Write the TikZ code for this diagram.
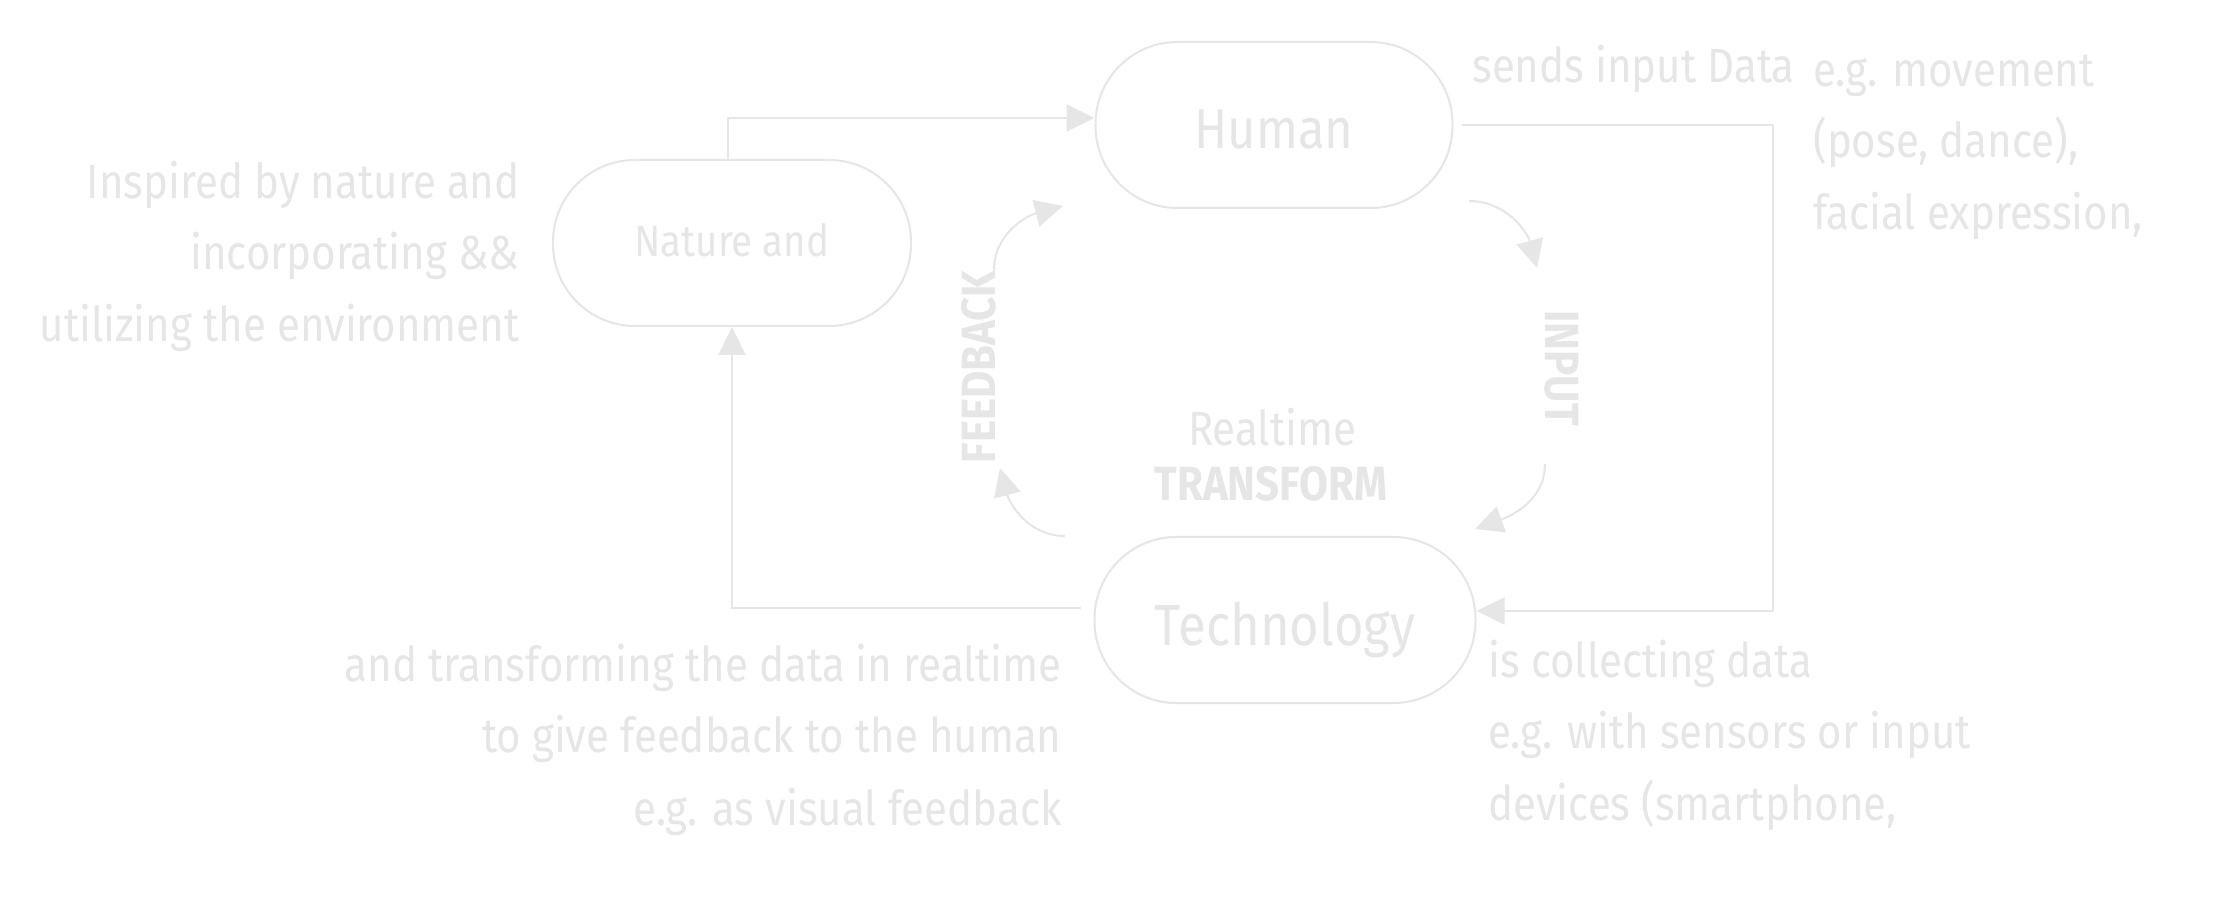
\documentclass[tikz,border=0pt]{standalone}
\usepackage{fontspec}
\setmainfont{Fira Sans}[BoldFont=* Bold, FakeStretch=0.875]
\usetikzlibrary{arrows.meta}
\definecolor{lg}{HTML}{E6E6E6}
\tikzset{
  box/.style={draw=lg, line width=1pt, rounded corners=41pt, minimum height=83pt, text=lg, inner sep=0pt, text depth=0pt},
  conn/.style={draw=lg, line width=1pt, -{Triangle[length=14pt,width=13.5pt]}},
  txt/.style={text=lg, inner sep=0pt, font=\fontsize{24}{28}\selectfont},
  lbl/.style={text=lg, inner sep=0pt, font=\bfseries\fontsize{24}{28}\selectfont},
}
\begin{document}
\begin{tikzpicture}[x=0.5pt,y=-0.5pt]
\useasboundingbox[fill=white] (0,0) rectangle (2224,919);
% nodes
\node[box, minimum width=178.5pt, text height=24pt, font=\fontsize{28}{32}\selectfont] (human) at (1274,125) {Human};
\node[box, minimum width=179pt, text height=14pt, font=\fontsize{22}{26}\selectfont] (nature) at (732,243) {Nature and};
\node[box, minimum width=190.5pt, text height=26pt, font=\fontsize{29}{33}\selectfont] (tech) at (1285,620) {Technology};
% straight connectors
\coordinate (hr) at (1773,125);
\draw[conn] ([xshift=-2pt]nature.north) |- ([yshift=3.5pt]human.west);
\draw[conn] ([xshift=4pt]human.east) -- (human.east -| hr) |- ([yshift=4.5pt]tech.east);
\draw[conn] ([xshift=-6.5pt,yshift=6pt]tech.west) -| (nature.south);
% curved arrows
\coordinate (a1s) at (1469,201); \coordinate (a1e) at (1537,268);
\coordinate (a2s) at (1545,464); \coordinate (a2e) at (1475,529);
\coordinate (a3s) at (1065,536); \coordinate (a3e) at (1000,468);
\coordinate (a4s) at (994,270);  \coordinate (a4e) at (1063,206);
\draw[conn] (a1s) to[out=0,in=105] (a1e);
\draw[conn] (a2s) to[out=-90,in=20] (a2e);
\draw[conn] (a3s) to[out=180,in=-75] (a3e);
\draw[conn] (a4s) to[out=90,in=195] (a4e);
% center labels
\node[lbl, rotate=90, anchor=base] (fb) at (995,367) {FEEDBACK};
\node[lbl, rotate=-90, anchor=base] (inp) at (1545,368) {INPUT};
\node[txt, anchor=base] (rt) at (1272,446) {Realtime};
\node[lbl, anchor=base] (tf) at (1271,501) {TRANSFORM};
% left texts
\node[txt, anchor=base east] (l1) at (520,199) {Inspired by nature and};
\node[txt, anchor=base east] (l2) at (520,270) {incorporating \&\&};
\node[txt, anchor=base east] (l3) at (520,342) {utilizing the environment};
% bottom left
\node[txt, anchor=base east] (b1) at (1062,682) {and transforming the data in realtime};
\node[txt, anchor=base east] (b2) at (1062,752) {to give feedback to the human};
\node[txt, anchor=base east] (b3) at (1062,825) {e.g. as visual feedback};
% bottom right
\node[txt, anchor=base west] (r1) at (1488,677) {is collecting data};
\node[txt, anchor=base west] (r2) at (1488,748) {e.g. with sensors or input};
\node[txt, anchor=base west] (r3) at (1488,820) {devices (smartphone,};
% top right
\node[txt, anchor=base west] (t0) at (1472,83) {sends input Data};
\node[txt, anchor=base west] (t1) at (1813,87) {e.g. movement};
\node[txt, anchor=base west] (t2) at (1813,158) {(pose, dance),};
\node[txt, anchor=base west] (t3) at (1813,230) {facial expression,};
\end{tikzpicture}
\end{document}
